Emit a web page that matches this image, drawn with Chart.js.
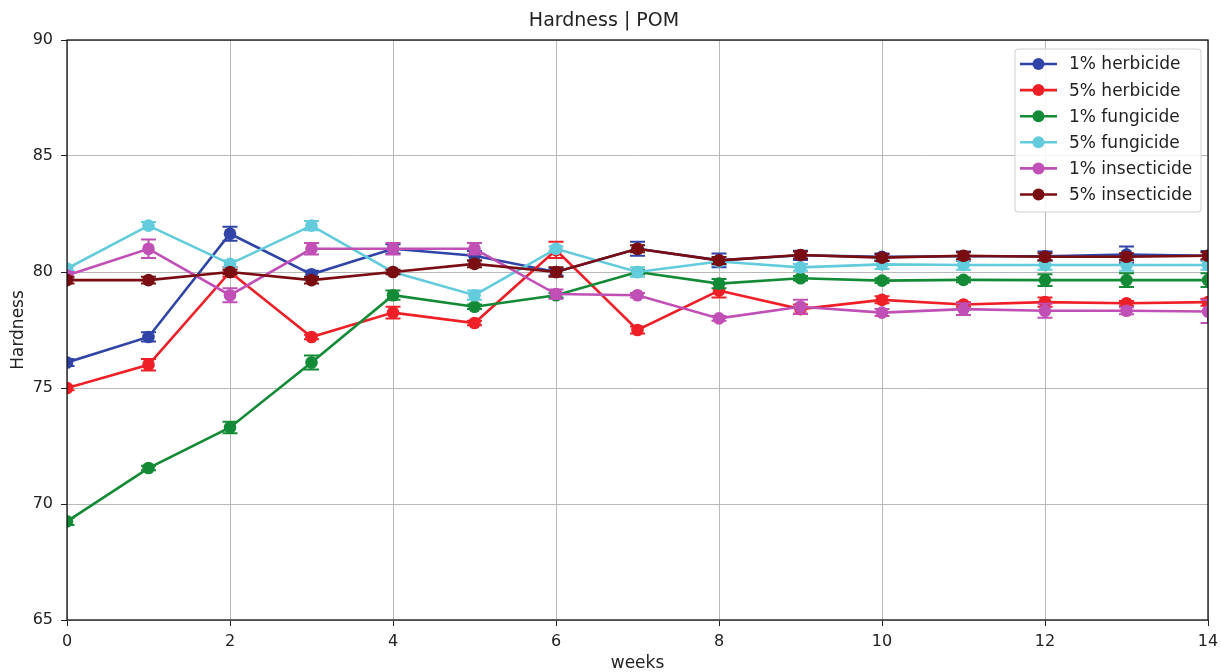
<!DOCTYPE html>
<html><head><meta charset="utf-8">
<script src="https://cdn.jsdelivr.net/npm/chart.js@4/dist/chart.umd.min.js"></script>
<style>html,body{margin:0;padding:0;background:#fff}#wrap{width:1221px;height:672px}</style>
</head><body><div id="wrap"><canvas id="c" width="1221" height="672"></canvas></div>
<script>
const weeks = [0,1,2,3,4,5,6,7,8,9,10,11,12,13,14];
const seriesLabels = ['1% herbicide','5% herbicide','1% fungicide','5% fungicide','1% insecticide','5% insecticide'];
const herbicide1 = [76.1,77.2,81.65,79.9,81.0,80.7,80.0,81.0,80.5,80.72,80.65,80.68,80.68,80.75,80.7];
const herbicide5 = [75.0,76.0,80.0,77.2,78.25,77.8,80.95,77.5,79.2,78.4,78.8,78.6,78.7,78.65,78.7];
const fungicide1 = [69.25,71.55,73.3,76.1,79.0,78.5,79.0,80.0,79.5,79.73,79.63,79.66,79.65,79.65,79.65];
const fungicide5 = [80.15,82.0,80.35,82.0,80.0,79.0,81.0,80.0,80.45,80.2,80.33,80.3,80.3,80.3,80.3];
const insecticide1 = [79.85,81.0,79.0,81.0,81.0,81.0,79.05,79.0,78.0,78.5,78.25,78.4,78.33,78.33,78.3];
const insecticide5 = [79.65,79.65,80.0,79.65,80.0,80.35,80.0,81.0,80.5,80.73,80.62,80.7,80.66,80.66,80.7];
const errHerbicide1 = [0.15,0.2,0.3,0.15,0.2,0.2,0.15,0.3,0.3,0.2,0.15,0.2,0.2,0.35,0.2];
const errHerbicide5 = [0.1,0.25,0.2,0.1,0.25,0.1,0.35,0.15,0.3,0.2,0.15,0.1,0.2,0.1,0.15];
const errFungicide1 = [0.15,0.1,0.25,0.3,0.2,0.1,0.1,0.1,0.2,0.1,0.1,0.1,0.25,0.3,0.3];
const errFungicide5 = [0.1,0.15,0.15,0.2,0.1,0.2,0.1,0.2,0.15,0.15,0.2,0.2,0.2,0.25,0.2];
const errInsecticide1 = [0.15,0.4,0.3,0.25,0.25,0.25,0.2,0.1,0.1,0.3,0.15,0.25,0.3,0.15,0.5];
const errInsecticide5 = [0.15,0.15,0.1,0.15,0.1,0.15,0.2,0.15,0.15,0.15,0.15,0.15,0.15,0.15,0.15];
const yTicks = [65,70,75,80,85,90];
const xTicks = [0,2,4,6,8,10,12,14];

const colors = ['#2f44a6','#ee1f26','#138a36','#62cbdc','#c04fb6','#7a0d12'];
const values = [herbicide1,herbicide5,fungicide1,fungicide5,insecticide1,insecticide5];
const errors = [errHerbicide1,errHerbicide5,errFungicide1,errFungicide5,errInsecticide1,errInsecticide5];

const datasets = values.map((vals,i)=>({
  label: seriesLabels[i],
  data: weeks.map((w,j)=>({x:w,y:vals[j]})),
  errors: errors[i],
  borderColor: colors[i],
  backgroundColor: colors[i],
  pointBackgroundColor: colors[i],
  pointBorderColor: colors[i],
  pointRadius: 6.3,
  pointBorderWidth: 0,
  borderWidth: 2.6,
  tension: 0,
  clip: 0,
  order: 10 - i
}));

const FONT = 'DejaVu Sans';

const errorBarPlugin = {
  id: 'errbars',
  beforeDatasetDraw(chart, args) {
    const ds = chart.data.datasets[args.index];
    const ys = chart.scales.y, xs = chart.scales.x;
    const ctx = chart.ctx, ca = chart.chartArea;
    ctx.save();
    ctx.beginPath(); ctx.rect(ca.left, ca.top, ca.right-ca.left, ca.bottom-ca.top); ctx.clip();
    ctx.strokeStyle = ds.borderColor; ctx.lineWidth = 2;
    ds.data.forEach((p,j)=>{
      const e = ds.errors[j];
      const x = xs.getPixelForValue(p.x);
      const y1 = ys.getPixelForValue(p.y - e), y2 = ys.getPixelForValue(p.y + e);
      ctx.beginPath();
      ctx.moveTo(x,y1); ctx.lineTo(x,y2);
      ctx.moveTo(x-7.5,y1); ctx.lineTo(x+7.5,y1);
      ctx.moveTo(x-7.5,y2); ctx.lineTo(x+7.5,y2);
      ctx.stroke();
    });
    ctx.restore();
  }
};

const framePlugin = {
  id: 'frame',
  afterDraw(chart) {
    const ctx = chart.ctx, ca = chart.chartArea;
    ctx.save();
    ctx.strokeStyle = '#111'; ctx.lineWidth = 1.3;
    ctx.strokeRect(ca.left, ca.top, ca.right-ca.left, ca.bottom-ca.top);
    // legend
    const lx = 1015, ly = 49, lw = 186, lh = 163;
    ctx.fillStyle = 'rgba(255,255,255,0.85)';
    ctx.strokeStyle = '#d0d0d0'; ctx.lineWidth = 1;
    ctx.beginPath();
    if (ctx.roundRect) ctx.roundRect(lx, ly, lw, lh, 3); else ctx.rect(lx, ly, lw, lh);
    ctx.fill(); ctx.stroke();
    ctx.font = '17px "' + FONT + '"';
    ctx.textBaseline = 'middle'; ctx.textAlign = 'left';
    chart.data.datasets.forEach((ds,i)=>{
      const y = 64 + i*26.1;
      ctx.strokeStyle = ds.borderColor; ctx.lineWidth = 2.6;
      ctx.beginPath(); ctx.moveTo(1020,y); ctx.lineTo(1057,y); ctx.stroke();
      ctx.fillStyle = ds.borderColor;
      ctx.beginPath(); ctx.arc(1038.5,y,6,0,Math.PI*2); ctx.fill();
      ctx.fillStyle = '#222';
      ctx.fillText(ds.label, 1069, y+1);
    });
    ctx.restore();
  }
};

new Chart(document.getElementById('c'), {
  type: 'line',
  data: { datasets },
  options: {
    responsive: false,
    animation: false,
    events: [],
    layout: { padding: { left: 0, right: 13, top: 0, bottom: 0 } },
    plugins: {
      legend: { display: false },
      tooltip: { enabled: false },
      title: {
        display: true, text: 'Hardness | POM', color: '#222',
        font: { family: FONT, size: 19, weight: 'normal' },
        padding: { top: 10, bottom: 7.2 }
      }
    },
    scales: {
      x: {
        type: 'linear', min: 0, max: 14,
        afterBuildTicks(s){ s.ticks = xTicks.map(v=>({value:v})); },
        afterFit(s){ s.height = 52; s.paddingLeft = 0; s.paddingRight = 0; },
        ticks: { color: '#222', font: { family: FONT, size: 16 }, padding: 6, maxRotation: 0 },
        grid: { color: '#b8b8b8', lineWidth: 1, tickColor: '#222', tickLength: 6 },
        border: { display: false },
        title: { display: true, text: 'weeks', color: '#222', font: { family: FONT, size: 17, lineHeight: 1 }, padding: { top: 2, bottom: 0 } }
      },
      y: {
        min: 65, max: 90,
        afterBuildTicks(s){ s.ticks = yTicks.map(v=>({value:v})); },
        afterFit(s){ s.width = 67; s.paddingTop = 0; s.paddingBottom = 0; },
        ticks: { color: '#222', font: { family: FONT, size: 16 }, padding: 8 },
        grid: { color: '#b8b8b8', lineWidth: 1, tickColor: '#222', tickLength: 6 },
        border: { display: false },
        title: { display: true, text: 'Hardness', color: '#222', font: { family: FONT, size: 17 }, padding: { top: 8, bottom: 0 } }
      }
    }
  },
  plugins: [errorBarPlugin, framePlugin]
});
</script>
</body></html>
